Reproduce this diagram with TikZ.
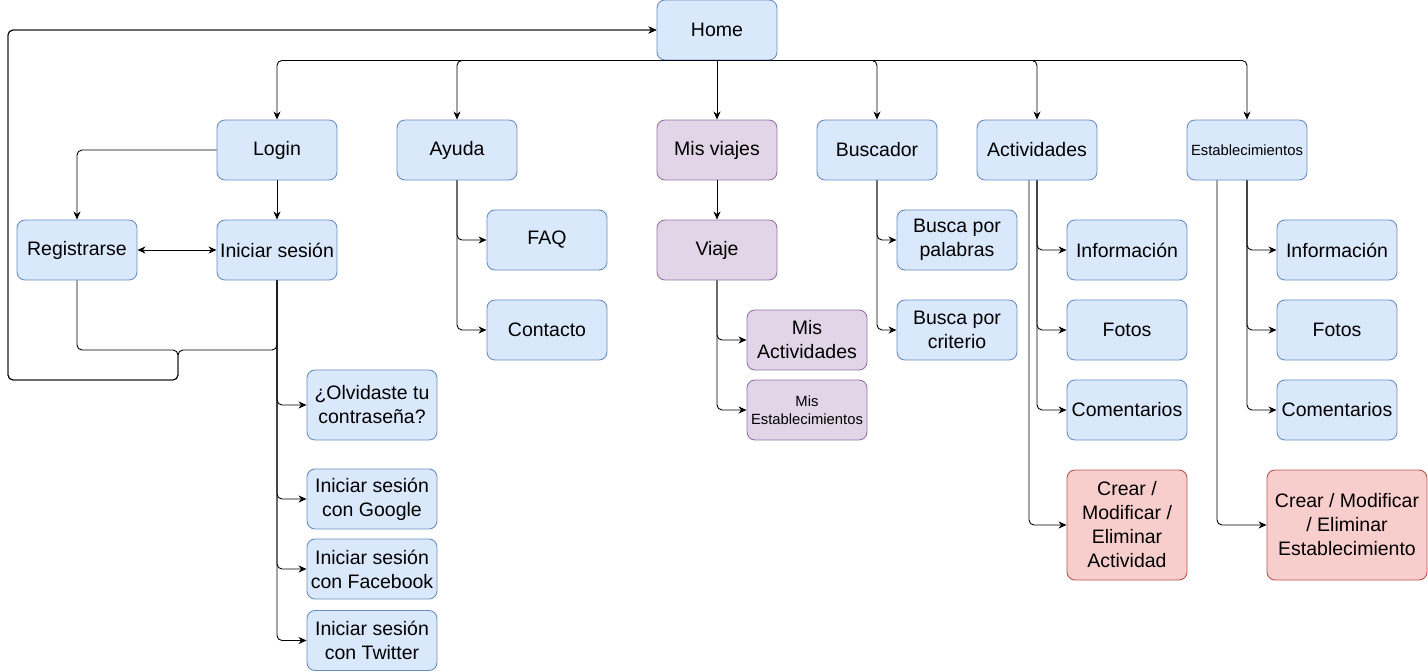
\documentclass[tikz,border=0pt]{standalone}
\usepackage{fontspec}
\setmainfont{Liberation Sans}
\usetikzlibrary{arrows.meta}
\definecolor{bfill}{HTML}{DAE8FC}\definecolor{bline}{HTML}{6C8EBF}
\definecolor{pfill}{HTML}{E1D5E7}\definecolor{pline}{HTML}{9673A6}
\definecolor{rfill}{HTML}{F8CECC}\definecolor{rline}{HTML}{B85450}
\tikzset{
  base/.style={rounded corners=8pt, line width=0.9pt, align=center, inner sep=0pt,
    minimum width=120, minimum height=60, font=\fontsize{19.5}{24}\selectfont},
  bbox/.style={base, draw=bline, fill=bfill},
  pbox/.style={base, draw=pline, fill=pfill},
  rbox/.style={base, draw=rline, fill=rfill},
  small/.style={font=\fontsize{14.8}{18}\selectfont},
  arr/.style={line width=0.9pt, rounded corners=5pt, -{Stealth[length=8pt,width=7pt,inset=2.5pt]}},
  darr/.style={line width=0.9pt, {Stealth[length=8pt,width=7pt,inset=2.5pt]}-{Stealth[length=8pt,width=7pt,inset=2.5pt]}}
}
\begin{document}
\begin{tikzpicture}[x=1pt,y=-1pt]
\useasboundingbox (0,0) rectangle (1428,672);
% nodes
\node[bbox] (home) at (717,30) {Home};
\node[bbox] (login) at (277,150) {Login};
\node[bbox] (ayuda) at (457,150) {Ayuda};
\node[pbox] (viajes) at (717,150) {Mis viajes};
\node[bbox] (busc) at (877,150) {Buscador};
\node[bbox] (act) at (1037,150) {Actividades};
\node[bbox, small] (est) at (1247,150) {Establecimientos};
\node[bbox] (reg) at (77,250) {Registrarse};
\node[bbox] (ini) at (277,250) {Iniciar sesión};
\node[bbox] (faq) at (547,240) {FAQ};
\node[bbox] (cont) at (547,330) {Contacto};
\node[pbox] (viaje) at (717,250) {Viaje};
\node[pbox] (misact) at (807,340) {Mis\\Actividades};
\node[pbox, small] (misest) at (807,410) {Mis\\Establecimientos};
\node[bbox] (pal) at (957,240) {Busca por\\palabras};
\node[bbox] (crit) at (957,330) {Busca por\\criterio};
\node[bbox] (info1) at (1127,250) {Información};
\node[bbox] (fotos1) at (1127,330) {Fotos};
\node[bbox] (com1) at (1127,410) {Comentarios};
\node[rbox, minimum height=110] (crear1) at (1127,525) {Crear /\\Modificar /\\Eliminar\\Actividad};
\node[bbox] (info2) at (1337,250) {Información};
\node[bbox] (fotos2) at (1337,330) {Fotos};
\node[bbox] (com2) at (1337,410) {Comentarios};
\node[rbox, minimum width=160, minimum height=110] (crear2) at (1347,525) {Crear / Modificar\\/ Eliminar\\Establecimiento};
\node[bbox, minimum width=130, minimum height=70] (olv) at (372,405) {¿Olvidaste tu\\contraseña?};
\node[bbox, minimum width=130] (goo) at (372,499) {Iniciar sesión\\con Google};
\node[bbox, minimum width=130] (fb) at (372,569) {Iniciar sesión\\con Facebook};
\node[bbox, minimum width=130] (tw) at (372,640.5) {Iniciar sesión\\con Twitter};
% coordinates for loop
\coordinate (ja) at (178,350);
\coordinate (jb) at (8,380);
% edges from home
\draw[arr] (home.south) -| (login.north);
\draw[arr] (home.south) -| (ayuda.north);
\draw[arr] (home.south) -- (viajes.north);
\draw[arr] (home.south) -| (busc.north);
\draw[arr] (home.south) -| (act.north);
\draw[arr] (home.south) -| (est.north);
% login area
\draw[arr] (login.west) -| (reg.north);
\draw[arr] (login.south) -- (ini.north);
\draw[darr] (reg.east) -- (ini.west);
\draw[arr] (reg.south) |- (ja) |- (jb) |- (home.west);
\draw[arr] (ini.south) |- (ja) |- (jb) |- (home.west);
\draw[arr] (ini.south) |- (olv.west);
\draw[arr] (ini.south) |- (goo.west);
\draw[arr] (ini.south) |- (fb.west);
\draw[arr] (ini.south) |- (tw.west);
% ayuda
\draw[arr] (ayuda.south) |- (faq.west);
\draw[arr] (ayuda.south) |- (cont.west);
% viajes
\draw[arr] (viajes.south) -- (viaje.north);
\draw[arr] (viaje.south) |- (misact.west);
\draw[arr] (viaje.south) |- (misest.west);
% buscador
\draw[arr] (busc.south) |- (pal.west);
\draw[arr] (busc.south) |- (crit.west);
% actividades
\draw[arr] (act.south) |- (info1.west);
\draw[arr] (act.south) |- (fotos1.west);
\draw[arr] (act.south) |- (com1.west);
\draw[arr] ([xshift=-8]act.south) |- (crear1.west);
% establecimientos
\draw[arr] (est.south) |- (info2.west);
\draw[arr] (est.south) |- (fotos2.west);
\draw[arr] (est.south) |- (com2.west);
\draw[arr] ([xshift=-30]est.south) |- (crear2.west);
\end{tikzpicture}
\end{document}
